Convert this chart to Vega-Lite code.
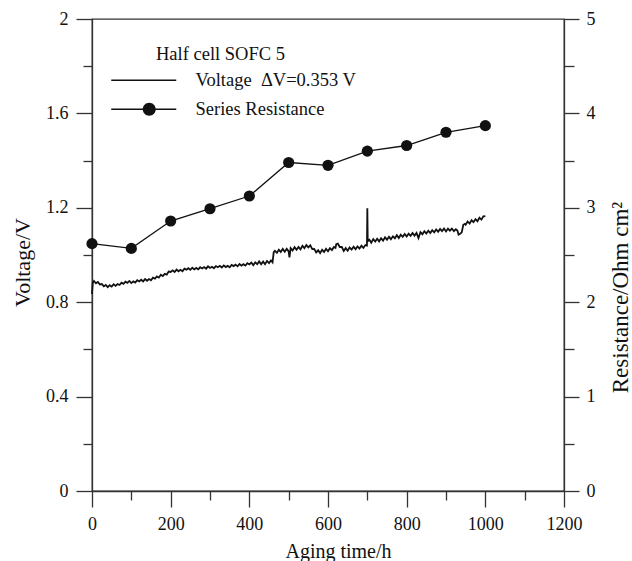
{
  "$schema": "https://vega.github.io/schema/vega-lite/v6.json",
  "width": 472,
  "height": 472,
  "autosize": "none",
  "padding": {"left": 92, "top": 19, "right": 68, "bottom": 70},
  "background": "white",
  "view": {"stroke": "#333", "strokeWidth": 1.3},
  "title": {"text": "Half cell SOFC 5", "anchor": "start", "frame": "group", "orient": "top", "offset": 0, "dx": 64, "dy": 62, "baseline": "middle", "font": "Liberation Serif", "fontSize": 18.5, "fontWeight": "normal", "color": "#111"},
  "config": {
    "axis": {"labelFont": "Liberation Serif", "labelFontSize": 18, "titleFont": "Liberation Serif", "titleFontWeight": "normal", "labelColor": "#111", "titleColor": "#111", "domainColor": "#333", "tickColor": "#333", "domainWidth": 1.3, "tickWidth": 1.3, "grid": false, "labelFlush": false, "labelOverlap": false},
    "legend": {"labelFont": "Liberation Serif", "labelFontSize": 18.5, "labelColor": "#111", "labelLimit": 400}
  },
  "datasets": {
    "voltage": [
      {"t":0,"v":0.835},{"t":2,"v":0.882},{"t":5,"v":0.890},{"t":10,"v":0.880},{"t":15,"v":0.886},{"t":20,"v":0.875},{"t":25,"v":0.877},{"t":30,"v":0.867},{"t":35,"v":0.873},{"t":40,"v":0.864},{"t":45,"v":0.872},{"t":50,"v":0.866},{"t":55,"v":0.876},{"t":60,"v":0.869},{"t":65,"v":0.877},{"t":70,"v":0.873},{"t":75,"v":0.883},{"t":80,"v":0.878},{"t":85,"v":0.887},{"t":90,"v":0.882},{"t":95,"v":0.890},{"t":100,"v":0.881},
      {"t":105,"v":0.888},{"t":110,"v":0.883},{"t":115,"v":0.893},{"t":120,"v":0.888},{"t":125,"v":0.895},{"t":130,"v":0.888},{"t":135,"v":0.898},{"t":140,"v":0.891},{"t":145,"v":0.898},{"t":150,"v":0.893},{"t":155,"v":0.904},{"t":160,"v":0.900},{"t":165,"v":0.909},{"t":170,"v":0.904},{"t":175,"v":0.916},{"t":180,"v":0.911},{"t":185,"v":0.920},{"t":190,"v":0.917},{"t":195,"v":0.930},{"t":200,"v":0.928},
      {"t":205,"v":0.935},{"t":210,"v":0.928},{"t":215,"v":0.938},{"t":220,"v":0.931},{"t":225,"v":0.937},{"t":230,"v":0.931},{"t":235,"v":0.942},{"t":240,"v":0.938},{"t":245,"v":0.944},{"t":250,"v":0.937},{"t":255,"v":0.946},{"t":260,"v":0.939},{"t":265,"v":0.945},{"t":270,"v":0.939},{"t":275,"v":0.948},{"t":280,"v":0.943},{"t":285,"v":0.949},{"t":290,"v":0.942},{"t":295,"v":0.952},{"t":300,"v":0.945},
      {"t":305,"v":0.950},{"t":310,"v":0.944},{"t":315,"v":0.953},{"t":320,"v":0.948},{"t":325,"v":0.954},{"t":330,"v":0.947},{"t":335,"v":0.956},{"t":340,"v":0.949},{"t":345,"v":0.954},{"t":350,"v":0.948},{"t":355,"v":0.958},{"t":360,"v":0.953},{"t":365,"v":0.959},{"t":370,"v":0.952},{"t":375,"v":0.962},{"t":380,"v":0.955},{"t":385,"v":0.961},{"t":390,"v":0.955},{"t":395,"v":0.965},{"t":400,"v":0.960},
      {"t":405,"v":0.968},{"t":410,"v":0.957},{"t":415,"v":0.969},{"t":420,"v":0.961},{"t":425,"v":0.973},{"t":430,"v":0.961},{"t":435,"v":0.972},{"t":440,"v":0.961},{"t":445,"v":0.975},{"t":450,"v":0.966},{"t":455,"v":0.977},{"t":459,"v":0.969},{"t":462,"v":1.012},{"t":465,"v":1.018},{"t":470,"v":1.009},{"t":475,"v":1.022},{"t":480,"v":1.013},{"t":485,"v":1.026},{"t":490,"v":1.014},{"t":495,"v":1.026},{"t":500,"v":1.015},
      {"t":502,"v":0.990},{"t":505,"v":1.029},{"t":510,"v":1.019},{"t":515,"v":1.033},{"t":520,"v":1.022},{"t":525,"v":1.034},{"t":530,"v":1.024},{"t":535,"v":1.039},{"t":540,"v":1.029},{"t":545,"v":1.042},{"t":550,"v":1.032},{"t":555,"v":1.041},{"t":560,"v":1.025},{"t":565,"v":1.026},{"t":570,"v":1.011},{"t":575,"v":1.020},{"t":580,"v":1.008},{"t":585,"v":1.022},{"t":590,"v":1.013},{"t":595,"v":1.026},{"t":600,"v":1.016},
      {"t":605,"v":1.029},{"t":610,"v":1.021},{"t":615,"v":1.034},{"t":619,"v":1.030},{"t":621,"v":1.046},{"t":625,"v":1.048},{"t":630,"v":1.034},{"t":635,"v":1.034},{"t":640,"v":1.017},{"t":645,"v":1.029},{"t":650,"v":1.018},{"t":655,"v":1.032},{"t":660,"v":1.023},{"t":665,"v":1.035},{"t":670,"v":1.024},{"t":675,"v":1.036},{"t":680,"v":1.027},{"t":685,"v":1.039},{"t":690,"v":1.030},{"t":695,"v":1.042},{"t":699,"v":1.040},
      {"t":700,"v":1.198},{"t":701,"v":1.058},{"t":705,"v":1.065},{"t":710,"v":1.052},{"t":715,"v":1.067},{"t":720,"v":1.057},{"t":725,"v":1.069},{"t":730,"v":1.058},{"t":735,"v":1.071},{"t":740,"v":1.061},{"t":745,"v":1.075},{"t":750,"v":1.065},{"t":755,"v":1.077},{"t":760,"v":1.067},{"t":765,"v":1.079},{"t":770,"v":1.071},{"t":775,"v":1.084},{"t":780,"v":1.072},{"t":785,"v":1.086},{"t":790,"v":1.077},{"t":795,"v":1.089},{"t":800,"v":1.078},
      {"t":805,"v":1.090},{"t":810,"v":1.081},{"t":815,"v":1.093},{"t":820,"v":1.082},{"t":825,"v":1.094},{"t":830,"v":1.072},{"t":835,"v":1.097},{"t":840,"v":1.088},{"t":845,"v":1.101},{"t":850,"v":1.091},{"t":855,"v":1.103},{"t":860,"v":1.093},{"t":865,"v":1.105},{"t":870,"v":1.096},{"t":875,"v":1.108},{"t":880,"v":1.098},{"t":885,"v":1.110},{"t":890,"v":1.101},{"t":895,"v":1.112},{"t":900,"v":1.100},
      {"t":905,"v":1.112},{"t":910,"v":1.103},{"t":915,"v":1.112},{"t":920,"v":1.101},{"t":925,"v":1.109},{"t":929,"v":1.104},{"t":932,"v":1.086},{"t":936,"v":1.090},{"t":940,"v":1.096},{"t":944,"v":1.128},{"t":948,"v":1.132},{"t":950,"v":1.128},{"t":955,"v":1.142},{"t":960,"v":1.133},{"t":965,"v":1.147},{"t":970,"v":1.139},{"t":975,"v":1.152},{"t":980,"v":1.143},{"t":985,"v":1.158},{"t":990,"v":1.150},{"t":995,"v":1.164},{"t":1000,"v":1.165}
    ],
    "resistance": [
      {"t":0,"r":2.62},{"t":100,"r":2.57},{"t":200,"r":2.86},{"t":300,"r":2.99},{"t":400,"r":3.125},{"t":500,"r":3.48},{"t":600,"r":3.45},{"t":700,"r":3.60},{"t":800,"r":3.66},{"t":900,"r":3.80},{"t":1000,"r":3.87}
    ],
    "legend": [
      {"series": "Voltage \u00a0ΔV=0.353 V"},
      {"series": "Series Resistance"}
    ]
  },
  "layer": [
    {
      "data": {"name": "voltage"},
      "mark": {"type": "line", "color": "#111", "strokeWidth": 1.8},
      "encoding": {
        "x": {"field": "t", "type": "quantitative", "scale": {"domain": [0, 1200], "nice": false},
          "axis": {"orient": "bottom", "values": [0, 200, 400, 600, 800, 1000, 1200], "format": "d", "tickSize": 16, "labelPadding": 8, "title": "Aging time/h", "titleFontSize": 20, "titleX": 246, "titleY": 66, "titleAlign": "center", "titleBaseline": "alphabetic"}},
        "y": {"field": "v", "type": "quantitative", "scale": {"domain": [0, 2], "nice": false},
          "axis": {"orient": "left", "values": [0, 0.4, 0.8, 1.2, 1.6, 2], "format": "~g", "tickSize": 16, "labelPadding": 8, "title": "Voltage/V", "titleFontSize": 22, "titleAngle": 270, "titleX": -70, "titleY": 243, "titleAlign": "center", "titleBaseline": "middle"}}
      }
    },
    {
      "data": {"name": "voltage"},
      "mark": {"type": "line", "opacity": 0},
      "encoding": {
        "x": {"field": "t", "type": "quantitative", "scale": {"domain": [0, 1200], "nice": false},
          "axis": {"orient": "bottom", "values": [100, 300, 500, 700, 900, 1100], "tickSize": 9, "labels": false, "domain": false, "title": null}},
        "y": {"field": "v", "type": "quantitative", "scale": {"domain": [0, 2], "nice": false},
          "axis": {"orient": "left", "values": [0.2, 0.6, 1, 1.4, 1.8], "tickSize": 9, "labels": false, "domain": false, "title": null}}
      }
    },
    {
      "data": {"name": "resistance"},
      "mark": {"type": "line", "color": "#111", "strokeWidth": 1.3},
      "encoding": {
        "x": {"field": "t", "type": "quantitative", "scale": {"domain": [0, 1200], "nice": false}, "axis": null},
        "y": {"field": "r", "type": "quantitative", "scale": {"domain": [0, 5], "nice": false},
          "axis": {"orient": "right", "values": [0, 1, 2, 3, 4, 5], "tickSize": 15, "labelPadding": 7, "title": "Resistance/Ohm cm²", "titleFontSize": 23, "titleAngle": 270, "titleX": 56, "titleY": 278, "titleAlign": "center", "titleBaseline": "middle"}}
      }
    },
    {
      "data": {"name": "resistance"},
      "mark": {"type": "point", "filled": true, "color": "#111", "size": 125, "opacity": 1},
      "encoding": {
        "x": {"field": "t", "type": "quantitative", "scale": {"domain": [0, 1200], "nice": false}, "axis": null},
        "y": {"field": "r", "type": "quantitative", "scale": {"domain": [0, 5], "nice": false}, "axis": null}
      }
    },
    {
      "data": {"name": "resistance"},
      "mark": {"type": "line", "opacity": 0},
      "encoding": {
        "x": {"field": "t", "type": "quantitative", "scale": {"domain": [0, 1200], "nice": false}, "axis": null},
        "y": {"field": "r", "type": "quantitative", "scale": {"domain": [0, 5], "nice": false},
          "axis": {"orient": "right", "values": [0.5, 1.5, 2.5, 3.5, 4.5], "tickSize": 10, "labels": false, "domain": false, "title": null}}
      }
    },
    {
      "data": {"name": "legend"},
      "mark": {"type": "point", "filled": true, "color": "#111", "opacity": 0, "size": 100},
      "encoding": {
        "shape": {"field": "series", "type": "nominal",
          "scale": {"domain": ["Voltage \u00a0ΔV=0.353 V", "Series Resistance"], "range": ["M-6.5,-0.13H6.5V0.13H-6.5Z", "M-6.5,-0.13H6.5V0.13H-6.5ZM-0.2,0A1.3,1.3,0,1,1,2.4,0A1.3,1.3,0,1,1,-0.2,0Z"]},
          "legend": {"orient": "none", "legendX": 42.5, "legendY": 52, "padding": 0, "title": null, "symbolSize": 100, "symbolOpacity": 1, "symbolFillColor": "#111", "symbolStrokeWidth": 0, "labelOffset": 42.5, "rowPadding": 10}}
      }
    }
  ],
  "resolve": {"scale": {"y": "independent"}, "axis": {"x": "independent", "y": "independent"}}
}
